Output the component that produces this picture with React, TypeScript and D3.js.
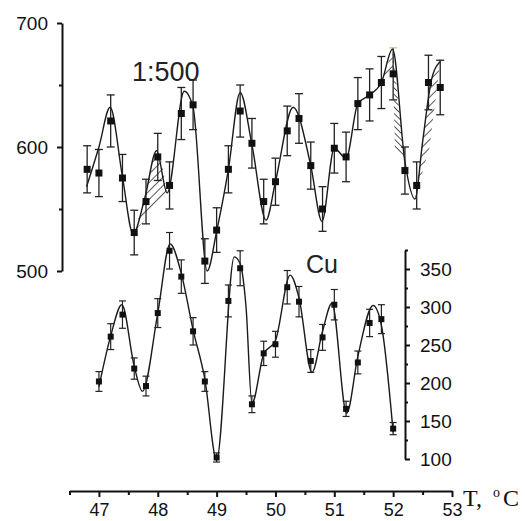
import { useEffect, useRef } from "react";
import * as d3 from "d3";

// upper series (left axis, "1:500")
const upperT = [46.8, 47.0, 47.2, 47.4, 47.6, 47.8, 48.0, 48.2, 48.4, 48.6, 48.8, 49.0, 49.2, 49.4, 49.6, 49.8, 50.0, 50.2, 50.4, 50.6, 50.8, 51.0, 51.2, 51.4, 51.6, 51.8, 52.0, 52.2, 52.4, 52.6, 52.8];
const upperVal = [582, 579, 621, 575, 531, 556, 592, 569, 627, 634, 508, 533, 582, 629, 603, 556, 572, 613, 623, 585, 550, 599, 592, 635, 642, 652, 659, 581, 569, 652, 648];
const upperErr = [19, 19, 21, 19, 18, 18, 19, 19, 21, 20, 18, 18, 19, 21, 20, 18, 19, 20, 20, 19, 18, 20, 20, 21, 21, 21, 21, 19, 19, 22, 22];

// fit curve through the upper series
const upperFitT = [46.79, 47.0, 47.19, 47.4, 47.58, 47.78, 47.98, 48.16, 48.45, 48.6, 48.84, 49.0, 49.2, 49.4, 49.6, 49.84, 50.0, 50.3, 50.6, 50.79, 51.0, 51.2, 51.4, 51.6, 51.8, 51.99, 52.2, 52.37, 52.5, 52.65, 52.8];
const upperFitVal = [568, 600, 632, 576, 530, 559, 597, 563, 645, 632, 500, 532, 582, 644, 602, 541, 572, 632, 585, 540, 599, 591, 635, 642, 652, 679, 588, 558, 604, 654, 669];

// lower series (right axis, Cu)
const lowerT = [47.0, 47.2, 47.4, 47.6, 47.8, 48.0, 48.2, 48.4, 48.6, 48.8, 49.0, 49.2, 49.4, 49.6, 49.8, 50.0, 50.2, 50.4, 50.6, 50.8, 51.0, 51.2, 51.4, 51.6, 51.8, 52.0];
const lowerVal = [202, 261, 290, 219, 196, 292, 374, 340, 268, 202, 102, 308, 351, 172, 239, 251, 326, 307, 229, 260, 303, 166, 227, 279, 284, 140];
const lowerErr = [13, 17, 18, 14, 13, 19, 24, 22, 18, 13, 6, 21, 23, 11, 16, 17, 22, 20, 15, 17, 20, 10, 15, 18, 19, 8];

const lowerFitT = [47.0, 47.2, 47.39, 47.6, 47.74, 48.0, 48.21, 48.4, 48.6, 48.8, 49.0, 49.3, 49.4, 49.5, 49.6, 49.8, 50.0, 50.25, 50.4, 50.62, 50.8, 50.96, 51.21, 51.4, 51.66, 51.8, 52.0];
const lowerFitVal = [195, 262, 303, 222, 189, 292, 383, 344, 270, 205, 99, 366, 357, 300, 173, 238, 256, 342, 312, 214, 268, 305, 160, 235, 302, 276, 135];

// hatched areas: part of upper fit curve [from, to], then closing points
const hatchFrom = [47.58, 51.8, 51.99, 52.37];
const hatchTo = [48.16, 51.99, 52.2, 52.8];
const hatchClose: [number, number][][] = [[], [[52.0, 659]], [[52.03, 598], [52.0, 659]], [[52.62, 600]]];
const hatchDir = ["f", "f", "b", "f"];

const xTicks = [47, 48, 49, 50, 51, 52, 53];
const xMinor = [46.5, 47.5, 48.5, 49.5, 50.5, 51.5, 52.5];
const leftTicks = [500, 600, 700];
const leftMinor = [550, 650];
const rightTicks = [100, 150, 200, 250, 300, 350];
const rightMinor = [125, 175, 225, 275, 325, 375];

const FONT = "'Liberation Sans', Arial, sans-serif";

const x = d3.scaleLinear().domain([46.5, 53]).range([69.5, 452]);
const yL = d3.scaleLinear().domain([500, 700]).range([271, 23]);
const yR = d3.scaleLinear().domain([100, 375]).range([459, 250]);

const App = () => {
  const leftRef = useRef<SVGGElement | null>(null);
  const rightRef = useRef<SVGGElement | null>(null);
  const bottomRef = useRef<SVGGElement | null>(null);

  useEffect(() => {
    const style = (g: d3.Selection<SVGGElement, unknown, null, undefined>, size: number) => {
      g.selectAll("path,line").attr("stroke", "#111").attr("stroke-width", 2);
      g.selectAll("text")
        .attr("fill", "#111")
        .style("font-family", FONT)
        .style("font-size", size + "px");
    };

    const left = d3.select(leftRef.current!);
    left.selectAll("*").remove();
    left.append("g").call(
      d3.axisLeft(yL).tickValues(leftTicks).tickSize(5).tickSizeOuter(0).tickPadding(9).tickFormat(d3.format("d"))
    );
    left.append("g").call(d3.axisLeft(yL).tickValues(leftMinor).tickSize(3).tickFormat(() => ""))
      .select(".domain").remove();
    style(left, 19);

    const right = d3.select(rightRef.current!);
    right.selectAll("*").remove();
    right.append("g").call(
      d3.axisRight(yR).tickValues(rightTicks).tickSize(5).tickSizeOuter(0).tickPadding(10).tickFormat(d3.format("d"))
    );
    right.append("g").call(d3.axisRight(yR).tickValues(rightMinor).tickSize(3).tickFormat(() => ""))
      .select(".domain").remove();
    style(right, 19);

    const bottom = d3.select(bottomRef.current!);
    bottom.selectAll("*").remove();
    bottom.append("g").call(
      d3.axisBottom(x).tickValues(xTicks).tickSize(6).tickSizeOuter(0).tickPadding(6).tickFormat(d3.format("d"))
    );
    bottom.append("g").call(d3.axisBottom(x).tickValues(xMinor).tickSize(4).tickFormat(() => ""))
      .select(".domain").remove();
    style(bottom, 18);
  }, []);

  const upperLine = d3
    .line<[number, number]>()
    .x((d) => x(d[0]))
    .y((d) => yL(d[1]))
    .curve(d3.curveMonotoneX);
  const lowerLine = d3
    .line<[number, number]>()
    .x((d) => x(d[0]))
    .y((d) => yR(d[1]))
    .curve(d3.curveMonotoneX);

  const upperFit: [number, number][] = upperFitT.map((t, i) => [t, upperFitVal[i]]);
  const lowerFit: [number, number][] = lowerFitT.map((t, i) => [t, lowerFitVal[i]]);

  const hatchPaths = hatchFrom.map((from, i) => {
    const part = upperFit.filter((d) => d[0] >= from - 1e-6 && d[0] <= hatchTo[i] + 1e-6);
    let p = upperLine(part) || "";
    hatchClose[i].forEach((c) => {
      p += `L${x(c[0])},${yL(c[1])}`;
    });
    return p + "Z";
  });

  return (
    <svg
      width={525}
      height={521}
      style={{ position: "absolute", left: 0, top: 0, background: "#fff" }}
    >
      <defs>
        <pattern id="hatch-f" patternUnits="userSpaceOnUse" width="6" height="6" patternTransform="rotate(45)">
          <line x1="0" y1="0" x2="0" y2="6" stroke="#111" strokeWidth="1.4" />
        </pattern>
        <pattern id="hatch-b" patternUnits="userSpaceOnUse" width="4.5" height="4.5" patternTransform="rotate(-45)">
          <line x1="0" y1="0" x2="0" y2="4.5" stroke="#111" strokeWidth="1.4" />
        </pattern>
      </defs>

      {hatchPaths.map((p, i) => (
        <path key={i} d={p} fill={`url(#hatch-${hatchDir[i]})`} stroke="none" />
      ))}

      <path d={upperLine(upperFit) || ""} fill="none" stroke="#1a1a1a" strokeWidth={1.4} />
      <path d={lowerLine(lowerFit) || ""} fill="none" stroke="#1a1a1a" strokeWidth={1.4} />

      {upperT.map((t, i) => {
        const cx = x(t);
        const top = yL(upperVal[i] + upperErr[i]);
        const bot = yL(upperVal[i] - upperErr[i]);
        const capColor = i === 26 ? "#b8d86a" : "#222";
        return (
          <g key={"u" + i}>
            <line x1={cx} x2={cx} y1={top} y2={bot} stroke="#222" strokeWidth={1.3} />
            <line x1={cx - 4} x2={cx + 4} y1={top} y2={top} stroke={capColor} strokeWidth={1.3} />
            <line x1={cx - 4} x2={cx + 4} y1={bot} y2={bot} stroke="#222" strokeWidth={1.3} />
            <rect x={cx - 3.5} y={yL(upperVal[i]) - 3.5} width={7} height={7} fill="#111" />
          </g>
        );
      })}

      {lowerT.map((t, i) => {
        const cx = x(t);
        const top = yR(lowerVal[i] + lowerErr[i]);
        const bot = yR(lowerVal[i] - lowerErr[i]);
        return (
          <g key={"l" + i}>
            <line x1={cx} x2={cx} y1={top} y2={bot} stroke="#222" strokeWidth={1.2} />
            <line x1={cx - 3.5} x2={cx + 3.5} y1={top} y2={top} stroke="#222" strokeWidth={1.2} />
            <line x1={cx - 3.5} x2={cx + 3.5} y1={bot} y2={bot} stroke="#222" strokeWidth={1.2} />
            <rect x={cx - 3} y={yR(lowerVal[i]) - 3} width={6} height={6} fill="#111" />
          </g>
        );
      })}

      <g ref={leftRef} transform="translate(62,0)" />
      <g ref={rightRef} transform="translate(405,0)" />
      <g ref={bottomRef} transform="translate(0,491)" />

      <text x={132} y={81} fontFamily={FONT} fontSize={27} fill="#222">
        1:500
      </text>
      <text x={306} y={273} fontFamily={FONT} fontSize={25} fill="#222">
        Cu
      </text>
      <text x={463} y={506} fontFamily="'Liberation Serif', 'Times New Roman', serif" fontSize={24} fill="#111">
        T,
        <tspan x={493} dy={-9} fontSize={14}>o</tspan>
        <tspan x={503} dy={9}>C</tspan>
      </text>
    </svg>
  );
};

export default App;
